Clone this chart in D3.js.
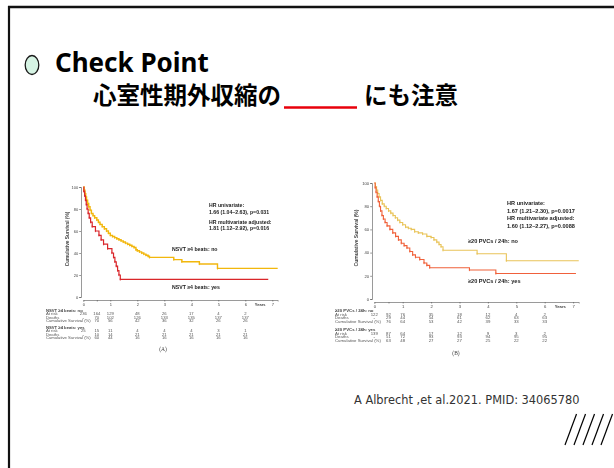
<!DOCTYPE html>
<html>
<head>
<meta charset="utf-8">
<script src="https://cdn.jsdelivr.net/npm/d3@7/dist/d3.min.js"></script>
<style>
  html, body { margin: 0; padding: 0; background: #fff; }
  svg { display: block; }
</style>
</head>
<body>
<svg id="slide" width="614" height="468"></svg>
<script>
// ---------- data ----------
// Kaplan-Meier step points [years, cumulative survival %]
const nsvtNo = [[0,100],[0.03,97],[0.06,94],[0.09,91],[0.12,88],[0.16,85],[0.2,82],[0.25,79],[0.3,76],[0.36,74],[0.42,72],[0.5,70],[0.56,68],[0.62,66],[0.7,64],[0.78,62],[0.86,60],[0.93,58],[1.0,56],[1.08,55],[1.16,54],[1.24,53],[1.32,52],[1.4,51],[1.48,50],[1.56,49],[1.64,48],[1.72,47],[1.8,46],[1.88,45],[1.95,43],[2.0,42],[2.08,41],[2.16,40],[2.24,39],[2.32,38],[2.4,37],[2.45,36],[3.35,34],[3.65,32],[4.3,30],[4.97,26],[7.2,26]];
const nsvtYes = [[0,100],[0.02,96],[0.05,92],[0.08,88],[0.11,84],[0.14,80],[0.18,76],[0.22,72],[0.27,68],[0.33,64],[0.45,60],[0.58,56],[0.66,52],[0.75,48],[0.9,44],[1.06,40],[1.12,36],[1.17,32],[1.22,28],[1.27,24],[1.32,20],[1.37,16],[6.85,16]];
const pvcNo = [[0,100],[0.04,97],[0.08,94],[0.12,91],[0.17,88],[0.22,85],[0.28,82],[0.35,80],[0.42,78],[0.5,76],[0.58,74],[0.66,72],[0.74,70],[0.82,68],[0.9,66],[1.0,64],[1.1,62],[1.2,61],[1.3,60],[1.42,58],[1.55,57],[1.7,56],[1.85,54],[2.0,53],[2.1,51],[2.2,49],[2.28,47],[2.35,45],[2.42,42],[3.62,39],[4.65,33],[7.2,33]];
const pvcYes = [[0,100],[0.03,96],[0.06,92],[0.1,88],[0.14,84],[0.18,80],[0.22,76],[0.27,72],[0.32,69],[0.38,66],[0.45,63],[0.55,60],[0.65,57],[0.75,54],[0.85,51],[0.95,48],[1.05,46],[1.15,44],[1.25,41],[1.35,38],[1.45,36],[1.6,34],[1.75,31],[1.85,29],[1.95,27],[3.35,25],[4.28,22],[7.1,22]];

// numbers-at-risk tables
const riskTimes = [0, 0.5, 1, 2, 3, 4, 5, 6];
const rowNames = ["At risk", "Deaths", "Cumulative Survival (%)"];
const nsvtNoRisk   = [236, 164, 129, 48, 26, 17, 4, 2];
const nsvtNoDeaths = ["-", 70, 102, 126, 133, 135, 137, 137];
const nsvtNoCum    = ["", 70, 56, 42, 36, 32, 26, 26];
const nsvtYesRisk   = [25, 15, 11, 4, 4, 4, 3, 1];
const nsvtYesDeaths = ["-", 10, 14, 21, 21, 21, 21, 21];
const nsvtYesCum    = ["", 60, 44, 16, 16, 16, 16, 16];
const pvcNoRisk   = [122, 92, 76, 35, 18, 12, 4, 2];
const pvcNoDeaths = ["-", 29, 44, 54, 61, 62, 63, 63];
const pvcNoCum    = ["", 76, 64, 53, 42, 39, 33, 33];
const pvcYesRisk   = [139, 87, 64, 17, 12, 9, 3, 2];
const pvcYesDeaths = ["-", 51, 72, 93, 93, 94, 95, 95];
const pvcYesCum    = ["", 63, 48, 27, 27, 25, 22, 22];

const yTicks = [0, 20, 40, 60, 80, 100];
const xTicks = [0, 0.5, 1, 2, 3, 4, 5, 6, 7];

// ---------- slide ----------
const svg = d3.select("#slide");
const defs = svg.append("defs");
defs.append("filter").attr("id", "soft")
  .attr("x", "-5%").attr("y", "-5%").attr("width", "110%").attr("height", "110%")
  .append("feGaussianBlur").attr("stdDeviation", 0.35);

// frame (top and left edges)
svg.append("line").attr("x1", 8).attr("x2", 614).attr("y1", 7).attr("y2", 7)
  .attr("stroke", "#111").attr("stroke-width", 2.6);
svg.append("line").attr("x1", 9).attr("x2", 9).attr("y1", 6).attr("y2", 468)
  .attr("stroke", "#111").attr("stroke-width", 2.2);

// heading
svg.append("ellipse").attr("cx", 32).attr("cy", 65).attr("rx", 6.8).attr("ry", 9.5)
  .attr("fill", "#d6f4e4").attr("stroke", "#1a1a1a").attr("stroke-width", 1.3);
svg.append("text").attr("x", 55).attr("y", 72)
  .attr("font-family", "'Noto Sans', sans-serif").attr("font-weight", 700)
  .attr("font-size", 26).attr("fill", "#000").text("Check Point");
const jp = { family: "'Noto Sans CJK JP', sans-serif", size: 23.5 };
svg.append("text").attr("x", 93).attr("y", 104)
  .attr("font-family", jp.family).attr("font-weight", 700).attr("font-size", jp.size)
  .attr("fill", "#000").text("心室性期外収縮の");
svg.append("line").attr("x1", 284).attr("x2", 357).attr("y1", 107.5).attr("y2", 107.5)
  .attr("stroke", "#e8000b").attr("stroke-width", 2.6);
svg.append("text").attr("x", 364).attr("y", 104)
  .attr("font-family", jp.family).attr("font-weight", 700).attr("font-size", jp.size)
  .attr("fill", "#000").text("にも注意");

// citation
svg.append("text").attr("x", 354).attr("y", 404)
  .attr("font-family", "'DejaVu Sans', Verdana, sans-serif").attr("font-size", 11.4)
  .attr("fill", "#333").text("A Albrecht ,et al.2021. PMID: 34065780");

// hatch mark
const hatch = [0, 1, 2, 3, 4];
svg.append("g").selectAll("line").data(hatch).join("line")
  .attr("x1", d => 565 + d * 9).attr("y1", 445)
  .attr("x2", d => 576.5 + d * 9).attr("y2", 414)
  .attr("stroke", "#000").attr("stroke-width", 1.2);

// ---------- survival panels ----------
function panel(cfg) {
  const g = svg.append("g").attr("filter", "url(#soft)");
  const x = d3.scaleLinear().domain([0, 7.2]).range([cfg.x0, cfg.x0 + 7.2 * cfg.perYear]);
  const y = d3.scaleLinear().domain([0, 100]).range([cfg.yBottom, cfg.yTop]);
  const axisColor = "#555";
  const tickFont = "'Liberation Sans', Arial, sans-serif";

  const ya = g.append("g").attr("transform", `translate(${cfg.yAxisX},0)`)
    .call(d3.axisLeft(y).tickValues(yTicks).tickSize(1.8).tickPadding(1));
  const xa = g.append("g").attr("transform", `translate(0,${cfg.xAxisY})`)
    .call(d3.axisBottom(x).tickValues(xTicks).tickSize(1.5).tickPadding(cfg.xPad)
      .tickFormat(d => Number.isInteger(d) ? d : ""));
  [ya, xa].forEach(a => {
    a.selectAll("path,line").attr("stroke", axisColor).attr("stroke-width", 0.6);
    a.selectAll("text").attr("font-family", tickFont).attr("font-size", cfg.tickSize).attr("fill", "#444");
  });
  // "Years" caption next to the last ticks
  g.append("text").attr("x", x(6.55)).attr("y", cfg.xAxisY + cfg.xPad + 1.5 + cfg.tickSize * 0.71)
    .attr("text-anchor", "middle").attr("font-family", tickFont).attr("font-weight", 700)
    .attr("font-size", cfg.tickSize).attr("fill", "#444").text("Years");

  g.append("text")
    .attr("transform", `translate(${cfg.yTitleX},${(y(0) + y(100)) / 2 - 3}) rotate(-90)`)
    .attr("text-anchor", "middle").attr("font-family", tickFont).attr("font-weight", 700)
    .attr("font-size", cfg.titleSize).attr("fill", "#444").text("Cumulative Survival (%)");

  const line = d3.line().x(d => x(d[0])).y(d => y(d[1])).curve(d3.curveStepAfter);
  cfg.curves.forEach(c => {
    g.append("path").datum(c.data).attr("d", line).attr("fill", "none")
      .attr("stroke", c.color).attr("stroke-width", c.width);
    g.append("g").selectAll("line").data(c.data.slice(1, -1)).join("line")
      .attr("x1", d => x(d[0])).attr("x2", d => x(d[0]))
      .attr("y1", d => y(d[1]) - 1.1).attr("y2", d => y(d[1]) + 1.1)
      .attr("stroke", c.color).attr("stroke-width", 0.9);
  });

  // hazard ratio notes and curve labels
  cfg.notes.forEach(n => {
    g.append("text").attr("x", n.x).attr("y", n.y).attr("font-family", tickFont)
      .attr("font-weight", 700).attr("font-size", cfg.noteSize).attr("fill", "#222").text(n.t);
  });

  // numbers-at-risk table
  const tf = cfg.tableSize;
  cfg.groups.forEach(grp => {
    g.append("text").attr("x", cfg.tableX).attr("y", grp.y).attr("font-family", tickFont)
      .attr("font-weight", 700).attr("font-size", tf).attr("fill", "#444").text(grp.title);
    grp.rows.forEach((vals, i) => {
      const ry = grp.y + (i + 1) * cfg.rowStep;
      g.append("text").attr("x", cfg.tableX).attr("y", ry).attr("font-family", tickFont)
        .attr("font-size", tf).attr("fill", "#555").text(rowNames[i]);
      g.append("g").selectAll("text").data(vals.map((v, k) => [riskTimes[k], v])).join("text")
        .attr("x", d => x(d[0])).attr("y", ry).attr("text-anchor", "middle")
        .attr("font-family", tickFont).attr("font-size", tf).attr("fill", "#555")
        .text(d => d[1]);
    });
  });
  g.append("text").attr("x", cfg.tagX).attr("y", cfg.tagY).attr("text-anchor", "middle")
    .attr("font-family", "'Liberation Serif', serif").attr("font-size", 5.5).attr("fill", "#444")
    .text(cfg.tag);
}

panel({
  x0: 83.3, perYear: 27, yTop: 187, yBottom: 297, yAxisX: 81, xAxisY: 300, xPad: 1.2,
  yTitleX: 69, tickSize: 4, titleSize: 4.8, noteSize: 5.2, tableSize: 4.2,
  curves: [
    { data: nsvtNo, color: "#f2b70c", width: 1.4 },
    { data: nsvtYes, color: "#d9262b", width: 1.2 }
  ],
  notes: [
    { x: 209, y: 207, t: "HR univariate:" },
    { x: 209, y: 214, t: "1.66 (1.04–2.63), p=0.031" },
    { x: 209, y: 223.5, t: "HR multivariate adjusted:" },
    { x: 209, y: 230, t: "1.81 (1.12–2.92), p=0.016" },
    { x: 172, y: 251, t: "NSVT ≥4 beats: no" },
    { x: 172, y: 289, t: "NSVT ≥4 beats: yes" }
  ],
  tableX: 46, rowStep: 3.6,
  groups: [
    { y: 311.5, title: "NSVT ≥4 beats: no", rows: [nsvtNoRisk, nsvtNoDeaths, nsvtNoCum] },
    { y: 328.5, title: "NSVT ≥4 beats: yes", rows: [nsvtYesRisk, nsvtYesDeaths, nsvtYesCum] }
  ],
  tag: "(A)", tagX: 163, tagY: 351
});

panel({
  x0: 374.3, perYear: 28.4, yTop: 183, yBottom: 299, yAxisX: 372, xAxisY: 302, xPad: 1.8,
  yTitleX: 358, tickSize: 4.2, titleSize: 5, noteSize: 5.6, tableSize: 4.3,
  curves: [
    { data: pvcNo, color: "#e9c45a", width: 1.1 },
    { data: pvcYes, color: "#f0613a", width: 1.1 }
  ],
  notes: [
    { x: 507, y: 205, t: "HR univariate:" },
    { x: 507, y: 213, t: "1.67 (1.21–2.30), p=0.0017" },
    { x: 507, y: 220, t: "HR multivariate adjusted:" },
    { x: 507, y: 228, t: "1.60 (1.12–2.27), p=0.0088" },
    { x: 468, y: 243, t: "≥20 PVCs / 24h: no" },
    { x: 468, y: 283, t: "≥20 PVCs / 24h: yes" }
  ],
  tableX: 335, rowStep: 3.5,
  groups: [
    { y: 312.2, title: "≥20 PVCs / 24h: no", rows: [pvcNoRisk, pvcNoDeaths, pvcNoCum] },
    { y: 331, title: "≥20 PVCs / 24h: yes", rows: [pvcYesRisk, pvcYesDeaths, pvcYesCum] }
  ],
  tag: "(B)", tagX: 456, tagY: 355
});
</script>
</body>
</html>
